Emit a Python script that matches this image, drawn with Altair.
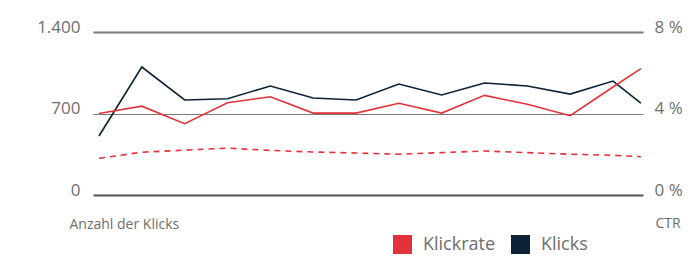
import altair as alt
import pandas as pd

# x positions of data points (last point is a partial period)
periods = [0, 1, 2, 3, 4, 5, 6, 7, 8, 9, 10, 11, 12, 12.65]
klicks = [507, 1099, 816, 827, 936, 833, 816, 953, 859, 962, 936, 867, 979, 790]
klickrate = [4.0, 4.36, 3.5, 4.53, 4.82, 4.02, 4.02, 4.5, 4.02, 4.89, 4.45, 3.89, 5.3, 6.2]
trend = [1.8, 2.1, 2.2, 2.3, 2.19, 2.11, 2.06, 2.0, 2.08, 2.16, 2.08, 2.0, 1.95, 1.88]

left_ticks = [0, 700, 1400]
right_ticks = [0, 4, 8]
series_names = ["Klickrate", "Klicks"]
series_colors = ["#e2323b", "#0d2237"]

FONT = "Open Sans"
GRAY = "#6e6e6e"

df_k = pd.DataFrame({"x": periods, "v": klicks, "series": "Klicks"})
df_r = pd.DataFrame({"x": periods, "v": klickrate, "series": "Klickrate"})
df_t = pd.DataFrame({"x": periods, "v": trend})

xenc = alt.X("x:Q", scale=alt.Scale(domain=[-0.14, 12.7], nice=False, zero=False), axis=None)
color = alt.Color(
    "series:N",
    scale=alt.Scale(domain=series_names, range=series_colors),
    legend=alt.Legend(
        title=None, orient="none", direction="horizontal",
        legendX=300, legendY=203, gridAlign="none",
        symbolType="square", symbolSize=1, symbolStrokeWidth=18, symbolOpacity=1,
        labelFont=FONT, labelFontSize=18, labelColor=GRAY, labelOffset=11,
        columnPadding=-12,
    ),
)

left = alt.Chart(df_k).mark_line(strokeWidth=1.6).encode(
    x=xenc,
    y=alt.Y(
        "v:Q",
        scale=alt.Scale(domain=[0, 1400], nice=False),
        axis=alt.Axis(
            orient="left", values=left_ticks, domain=False, ticks=False,
            grid=True,
            gridColor={"condition": {"test": "datum.value === 0", "value": "#555555"}, "value": "#7a7a7a"},
            gridWidth={"condition": {"test": "datum.value === 700", "value": 1}, "value": 2},
            labelExpr="replace(format(datum.value, ','), ',', '.')",
            labelFont=FONT, labelFontSize=17, labelColor=GRAY, labelPadding=13,
            labelBaseline="alphabetic",
            title="Anzahl der Klicks", titleAngle=0, titleAlign="left", titleBaseline="alphabetic",
            titleX=-24, titleY=196, titleFont=FONT, titleFontSize=14, titleFontWeight="normal",
            titleColor=GRAY,
        ),
    ),
    color=color,
)

right_line = alt.Chart(df_r).mark_line(strokeWidth=1.6).encode(
    x=xenc,
    y=alt.Y(
        "v:Q",
        scale=alt.Scale(domain=[0, 8], nice=False),
        axis=alt.Axis(
            orient="right", values=right_ticks, domain=False, ticks=False, grid=False,
            labelExpr="datum.value + ' %'",
            labelFont=FONT, labelFontSize=17, labelColor=GRAY, labelPadding=11,
            labelBaseline="alphabetic",
            title="CTR", titleAngle=0, titleAlign="left", titleBaseline="alphabetic",
            titleX=12, titleY=195, titleFont=FONT, titleFontSize=14, titleFontWeight="normal",
            titleColor=GRAY,
        ),
    ),
    color=color,
)

right_trend = alt.Chart(df_t).mark_line(strokeWidth=1.6, strokeDash=[6, 5]).encode(
    x=xenc,
    y=alt.Y("v:Q", scale=alt.Scale(domain=[0, 8], nice=False)),
    color=alt.value("#e2323b"),
)

right = alt.layer(right_line, right_trend)

chart = alt.layer(left, right).resolve_scale(y="independent").properties(
    width=550, height=163,
    autosize=alt.AutoSizeParams(type="none"),
    padding={"left": 85, "top": 24, "right": 39, "bottom": 59},
).configure_view(stroke=None)

chart.save("out.html", embed_options={"renderer": "svg", "actions": False})
